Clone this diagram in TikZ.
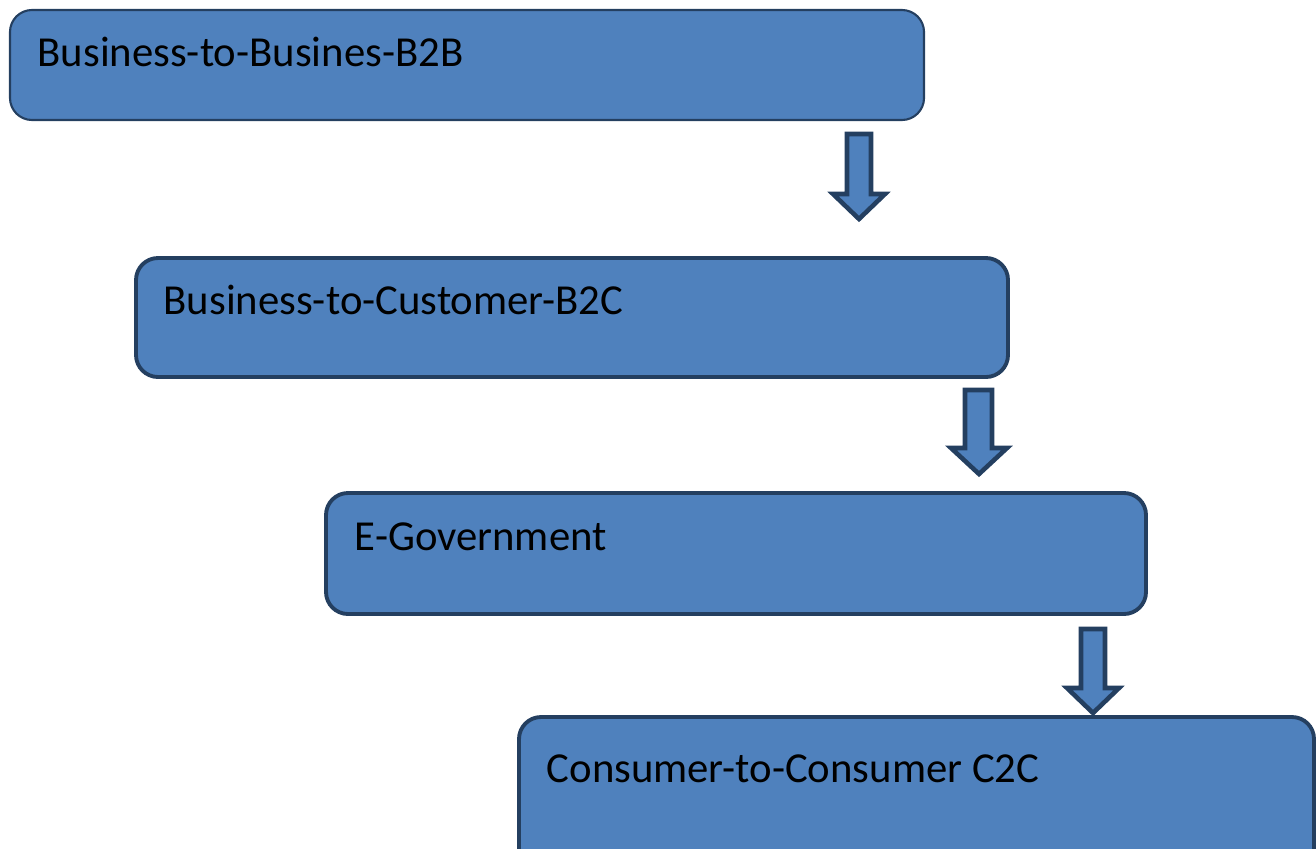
\documentclass[tikz,border=0pt]{standalone}
\usepackage{fontspec}
\setmainfont{Carlito}
\definecolor{boxfill}{HTML}{4F81BD}
\definecolor{boxline}{HTML}{243F60}
\begin{document}
\begin{tikzpicture}[x=0.01cm,y=-0.01cm,
  stage/.style={draw=boxline,fill=boxfill,rounded corners=0.22cm,line width=1.1pt},
  label/.style={anchor=base west,inner sep=0pt,font=\fontsize{12.15}{14}\selectfont},
  blockarrow/.style={draw=boxline,fill=boxfill,line width=1.3pt,line join=miter}]
\useasboundingbox (0,0) rectangle (1316,848);
\clip (0,0) rectangle (1316,848);
% stages
\draw[stage,line width=0.6pt] (10,10) rectangle (924,120);
\node[label] (b2b) at (37,66) {Business-to-Busines-B2B};
\draw[stage] (136,258) rectangle (1008,377);
\node[label] (b2c) at (163,314) {Business-to-Customer-B2C};
\draw[stage] (326,493) rectangle (1146,614);
\node[label] (egov) at (354,550) {E-Government};
\draw[stage] (519,717) rectangle (1314,880);
\node[label] (c2c) at (546,782) {Consumer-to-Consumer C2C};
% block arrows between stages
\draw[blockarrow] (847,134) -- (871,134) -- (871,194) -- (885,194) -- (859,219) -- (833,194) -- (847,194) -- cycle;
\draw[blockarrow] (965,390) -- (992,390) -- (992,448) -- (1007,448) -- (979,474) -- (951,448) -- (965,448) -- cycle;
\draw[blockarrow] (1081,629) -- (1105,629) -- (1105,688) -- (1119,688) -- (1093,713) -- (1067,688) -- (1081,688) -- cycle;
\end{tikzpicture}
\end{document}
